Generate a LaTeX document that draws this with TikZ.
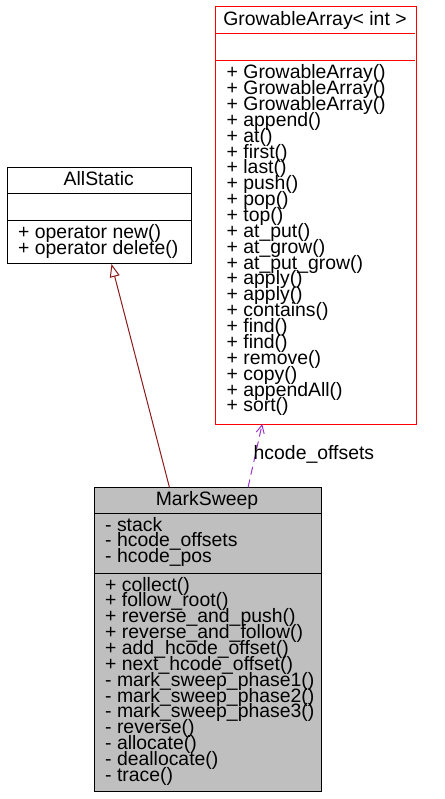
\documentclass[tikz,border=0pt]{standalone}
\usepackage{fontspec}
\setmainfont{Liberation Sans}
\usetikzlibrary{arrows.meta,calc}
\definecolor{garedc}{RGB}{255,0,0}
\definecolor{inhc}{RGB}{139,26,26}
\definecolor{usec}{RGB}{154,50,205}
\definecolor{msfill}{RGB}{191,191,191}
\tikzset{
  classbox/.style={line width=1pt, inner sep=0pt, anchor=north west},
  member/.style={anchor=base west, inner sep=0pt, text height=12pt, text depth=3.5pt, font=\fontsize{19.4}{16}\selectfont},
  ctitle/.style={anchor=base, inner sep=0pt, text height=12pt, text depth=3.5pt, font=\fontsize{19.4}{16}\selectfont},
  sepline/.style={line width=1pt},
  inherit/.style={draw=inhc, line width=1pt, -{Triangle[open, length=13pt, width=10pt]}},
  usage/.style={draw=usec, line width=1pt, dash pattern=on 8pt off 5pt, -{Straight Barb[length=8pt, width=8pt]}},
  elabel/.style={anchor=base west, inner sep=0pt, text height=12pt, text depth=3.5pt, font=\fontsize{19.4}{16}\selectfont}
}
\begin{document}
\begin{tikzpicture}[x=1pt,y=-1pt]
\useasboundingbox (0,0) rectangle (444,799);
% GrowableArray< int >
\node[classbox, fill=white, minimum width=200pt, minimum height=416pt] (ga) at (215,7) {};
\draw[sepline, color=garedc] (ga.north west) rectangle (ga.south east);
\draw[sepline, color=garedc] (215,34) -- (415,34);
\draw[sepline, color=garedc] (215,60.5) -- (415,60.5);
\node[ctitle] (ga-t) at (315,25.5) {GrowableArray< int >};
\foreach \t [count=\i from 0] in {GrowableArray(),GrowableArray(),GrowableArray(),append(),at(),first(),last(),push(),pop(),top(),at\_put(),at\_grow(),at\_put\_grow(),apply(),apply(),contains(),find(),find(),remove(),copy(),appendAll(),sort()}
  \node[member] (ga-m\i) at (226.5,{78.8+\i*15.86}) {+ \t};
% AllStatic
\node[classbox, draw, fill=white, minimum width=184.5pt, minimum height=96pt] (as) at (6.5,167) {};
\draw[sepline] (6.5,193.5) -- (191,193.5);
\draw[sepline] (6.5,221) -- (191,221);
\node[ctitle] (as-t) at (98.75,185.5) {AllStatic};
\node[member] (as-m0) at (18,238.8) {+ operator new()};
\node[member] (as-m1) at (18,254.6) {+ operator delete()};
% MarkSweep
\node[classbox, draw, fill=msfill, minimum width=227pt, minimum height=304pt] (ms) at (93.5,487.3) {};
\draw[sepline] (93.5,513.5) -- (320.5,513.5);
\draw[sepline] (93.5,573.3) -- (320.5,573.3);
\node[ctitle] (ms-t) at (207,505) {MarkSweep};
\foreach \t [count=\i from 0] in {- stack,- hcode\_offsets,- hcode\_pos}
  \node[member] (ms-a\i) at (105,{531+\i*15.86}) {\t};
\foreach \t [count=\i from 0] in {+ collect(),+ follow\_root(),+ reverse\_and\_push(),+ reverse\_and\_follow(),+ add\_hcode\_offset(),+ next\_hcode\_offset(),- mark\_sweep\_phase1(),- mark\_sweep\_phase2(),- mark\_sweep\_phase3(),- reverse(),- allocate(),- deallocate(),- trace()}
  \node[member] (ms-m\i) at (105,{591+\i*15.86}) {\t};
% connectors
\coordinate (ms-inh) at ($(ms.north west)!0.333!(ms.north east)$);
\coordinate (as-tip) at ($(as.south west)!0.566!(as.south east)$);
\coordinate (ms-use) at ($(ms.north west)!0.678!(ms.north east)$);
\coordinate (ga-tip) at ($(ga.south west)!0.235!(ga.south east)$);
\draw[inherit] (ms-inh) -- (as-tip);
\draw[usage] (ms-use) -- (ga-tip);
\node[elabel] (lbl) at (253.5,459.5) {hcode\_offsets};
\end{tikzpicture}
\end{document}
